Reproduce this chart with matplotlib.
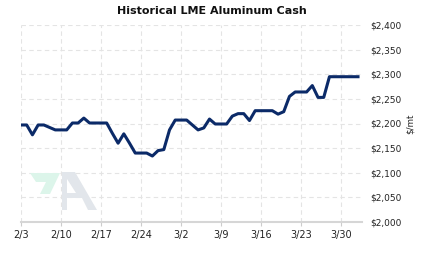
import numpy as np
import pandas as pd
import matplotlib
matplotlib.use('Agg')
import matplotlib.pyplot as plt
from matplotlib.patches import Polygon

# Daily LME aluminium cash, $/mt, 2024-02-03 .. 2024-04-02 (weekends/holidays carry the last price)
prices = [2197, 2197, 2177, 2197, 2197, 2192, 2187, 2187, 2187, 2201,
          2201, 2211, 2201, 2201, 2201, 2201, 2180, 2160, 2179, 2160,
          2140, 2140, 2140, 2134, 2145, 2147, 2187, 2207, 2207, 2207,
          2197, 2187, 2191, 2209, 2199, 2199, 2199, 2215, 2220, 2220,
          2206, 2226, 2226, 2226, 2226, 2219, 2224, 2255, 2264, 2264,
          2264, 2277, 2253, 2253, 2295, 2295, 2295, 2295, 2295, 2295]
start_date = '2024-02-03'
tick_labels = ['2/3', '2/10', '2/17', '2/24', '3/2', '3/9', '3/16', '3/23', '3/30']
y_ticks = [2000, 2050, 2100, 2150, 2200, 2250, 2300, 2350, 2400]

dates = pd.date_range(start_date, periods=len(prices), freq='D')
days = (dates - dates[0]).days.values
tick_pos = np.arange(len(tick_labels)) * 7

W, H = 423, 257
fig = plt.figure(figsize=(W / 100, H / 100), dpi=100)
ax = fig.add_axes([21 / W, 1 - 222 / H, (362 - 21) / W, (222 - 25) / H])

# watermark logo (figure pixel coords, y from top)
def px(pts):
    return [(x / W, 1 - y / H) for x, y in pts]

def logo(pts, c):
    fig.patches.append(Polygon(px(pts), closed=True, transform=fig.transFigure,
                               color=c, linewidth=0, zorder=0))

logo([(30, 173), (60, 173), (50, 194), (40, 194), (46, 182), (36, 182)], '#dcf5ea')
logo([(62, 210), (62, 172), (75, 172), (97, 210), (88, 210), (82, 198),
      (67, 198), (67, 210)], '#e2e6eb')
logo([(67, 179), (67, 193), (76, 193)], 'white')

ax.set_facecolor('none')
ax.plot(days, prices, color='#0b2a68', linewidth=2.2, solid_joinstyle='round', zorder=3)

ax.set_xlim(0, 59.7)
ax.set_ylim(2000, 2400)
ax.set_xticks(tick_pos)
ax.set_xticklabels(tick_labels, fontsize=7, color='#222222')
ax.set_yticks(y_ticks)
ax.set_yticklabels(['$' + f'{v:,}' for v in y_ticks], fontsize=6.5, color='#222222', ha='left')
ax.yaxis.tick_right()
ax.tick_params(axis='y', length=0, pad=6)
ax.tick_params(axis='x', length=3, width=0.8, color='#cccccc', pad=3)
fig.text(410 / W, 1 - 124 / H, '$/mt', rotation=90, ha='center', va='center',
         fontsize=6.3, color='#222222')

ax.grid(True, color='#e4e4e4', linestyle=(0, (4, 3)), linewidth=0.8, zorder=0)
for s in ['top', 'right', 'left']:
    ax.spines[s].set_visible(False)
ax.spines['bottom'].set_color('#d6d6d6')
ax.spines['bottom'].set_linewidth(1.5)

fig.suptitle('Historical LME Aluminum Cash', x=0.5, y=1 - 11 / H, va='center',
             fontsize=8, fontweight='bold', color='#111111')

fig.savefig('out.png', dpi=100)
